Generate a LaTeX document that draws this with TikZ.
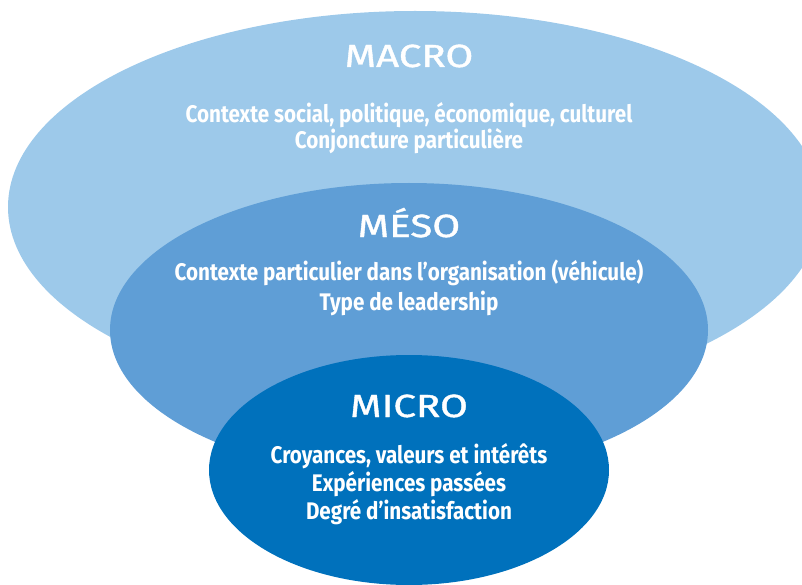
\documentclass[tikz,border=0pt]{standalone}
\usepackage{fontspec}
\usepackage{tikz}
\usetikzlibrary{positioning}
\setmainfont{Fira Sans}
\newfontfamily\titlefont[FakeStretch=1.26,FakeBold=1.2]{Fira Sans}
\newfontfamily\bodyfont[FakeStretch=0.86]{Fira Sans}
\definecolor{macroblue}{HTML}{9DC9EA}
\definecolor{mesoblue}{HTML}{5F9ED6}
\definecolor{microblue}{HTML}{0071BC}

\begin{document}
\begin{tikzpicture}[x=1pt,y=-1pt,
    level/.style={text=white,inner sep=0pt,anchor=base,font=\titlefont\fontsize{32}{32}\selectfont},
    detail/.style={text=white,inner sep=0pt,anchor=north,align=center,font=\bodyfont\bfseries\fontsize{24}{#1}\selectfont}]
    \useasboundingbox (0,0) rectangle (802,585);
    \clip (0,0) rectangle (802,585);
    \fill[macroblue] (415,207) ellipse [x radius=407, y radius=196];
    \fill[mesoblue]  (409,330) ellipse [x radius=299, y radius=147];
    \fill[microblue] (409,470) ellipse [x radius=200, y radius=115];

    \node[level]  (macro)     at (409,67)  {MACRO};
    \node[detail=26] (macroTxt) at (409,102) {Contexte social, politique, économique, culturel\\Conjoncture particulière};
    \node[level]  (meso)      at (409,237) {MÉSO};
    \node[detail=30] (mesoTxt)  at (409,260) {Contexte particulier dans l’organisation (véhicule)\\Type de leadership};
    \node[level]  (micro)     at (409,417) {MICRO};
    \node[detail=28] (microTxt) at (409,443) {Croyances, valeurs et intérêts\\Expériences passées\\Degré d’insatisfaction};
\end{tikzpicture}
\end{document}
